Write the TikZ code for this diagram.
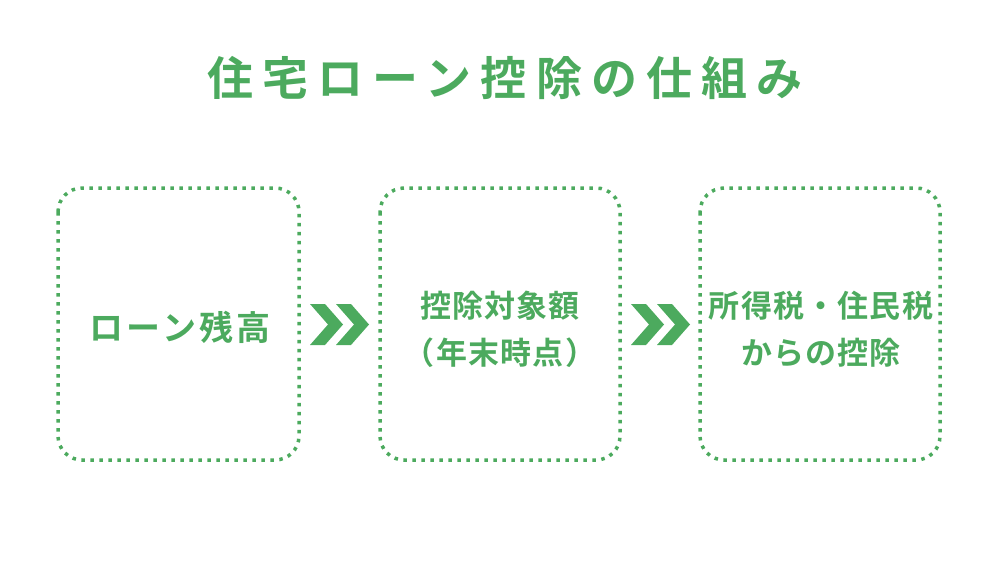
\documentclass[tikz,border=0pt]{standalone}
\usepackage{fontspec}
\newfontfamily\jp{Noto Sans CJK JP Bold}
\definecolor{g}{HTML}{4CAA5E}
\begin{document}
\begin{tikzpicture}[x=1pt,y=-1pt,
  box/.style={draw=g,line width=3.5pt,dash pattern=on 3.5pt off 5.5pt,rounded corners=24pt},
  txt/.style={text=g,font=\jp\fontsize{31}{47}\selectfont\addfontfeature{LetterSpace=4},align=center}]
\useasboundingbox (0,0) rectangle (1000,562);
\node[text=g,font=\jp\fontsize{46}{52}\selectfont\addfontfeature{LetterSpace=20}] (title) at (505,78) {住宅ローン控除の仕組み};
\draw[box] (58,188) rectangle (299,460);
\draw[box] (380,188) rectangle (620,460);
\draw[box] (700,188) rectangle (940,460);
\node[txt,font=\jp\fontsize{34}{47}\selectfont\addfontfeature{LetterSpace=9}] (a) at (180,327) {ローン残高};
\node[txt] (b) at (500,329) {控除対象額\\（年末時点）};
\node[txt] (c) at (821,329) {所得税・住民税\\からの控除};
\foreach \x in {310,336}
  \fill[g] (\x,304) -- (\x+15,304) -- (\x+33,324.5) -- (\x+15,345) -- (\x,345) -- (\x+18,324.5) -- cycle;
\foreach \x in {631,657}
  \fill[g] (\x,304) -- (\x+15,304) -- (\x+33,324.5) -- (\x+15,345) -- (\x,345) -- (\x+18,324.5) -- cycle;
\end{tikzpicture}
\end{document}
